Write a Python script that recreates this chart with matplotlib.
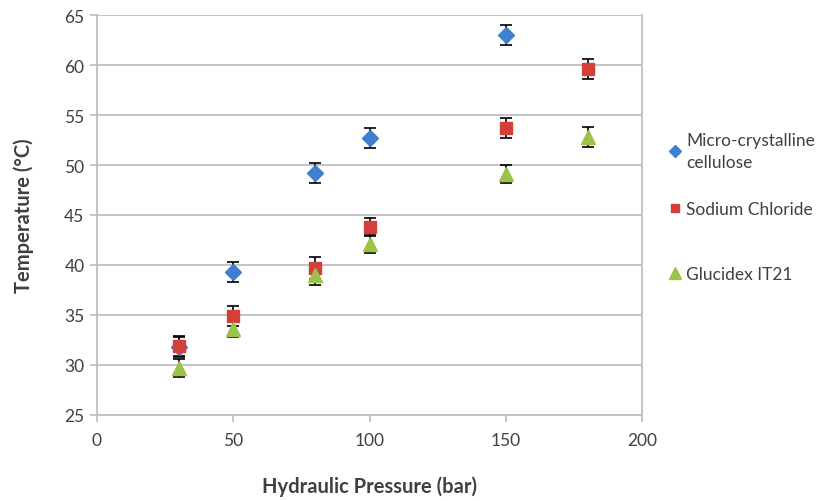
import matplotlib.pyplot as plt

pressure_mcc = [30, 50, 80, 100, 150]
temp_mcc = [31.8, 39.3, 49.2, 52.7, 63.0]
err_mcc = [1.0, 1.0, 1.0, 1.0, 1.0]

pressure_nacl = [30, 50, 80, 100, 150, 180]
temp_nacl = [31.9, 34.9, 39.7, 43.8, 53.7, 59.6]
err_nacl = [1.0, 1.0, 1.1, 0.9, 1.0, 1.0]

pressure_glu = [30, 50, 80, 100, 150, 180]
temp_glu = [29.7, 33.6, 39.0, 42.1, 49.1, 52.8]
err_glu = [0.9, 0.8, 1.0, 0.9, 0.9, 1.0]

plt.rcParams['font.family'] = ['Lato', 'DejaVu Sans']
text_col = '#404040'
grid_col = '#bfbfbf'

fig = plt.figure(figsize=(8.34, 5.02), dpi=100)
ax = fig.add_axes([97 / 834, 1 - 416 / 502, 545 / 834, 400 / 502])

series = [
    (pressure_mcc, temp_mcc, err_mcc, 'D', '#3f7fcf', 8, 'Micro-crystalline\ncellulose'),
    (pressure_nacl, temp_nacl, err_nacl, 's', '#d43f3a', 8, 'Sodium Chloride'),
    (pressure_glu, temp_glu, err_glu, '^', '#9bc34a', 10, 'Glucidex IT21'),
]
for x, y, e, m, c, ms, lab in series:
    ax.errorbar(x, y, yerr=e, fmt=m, color=c, ms=ms, mec=c,
                ecolor='black', elinewidth=1.2, capsize=4, capthick=1.2,
                label=lab, zorder=3)

ax.set_xlim(0, 200)
ax.set_ylim(25, 65)
ax.set_xticks(range(0, 201, 50))
ax.set_yticks(range(25, 66, 5))
ax.yaxis.grid(True, color=grid_col, linewidth=1.3)
ax.set_axisbelow(True)
for s in ['left', 'bottom', 'right', 'top']:
    ax.spines[s].set_color(grid_col)
    ax.spines[s].set_linewidth(1.3)
ax.spines['top'].set_visible(False)
ax.tick_params(colors=grid_col, labelcolor=text_col, labelsize=12.5, length=5, width=1.3)
ax.tick_params(axis='x', pad=7)
ax.tick_params(axis='y', pad=4)

ax.set_xlabel('Hydraulic Pressure (bar)', fontsize=14.5, fontweight='bold', color=text_col, labelpad=20)
ax.set_ylabel('Temperature (°C)', fontsize=14.5, fontweight='bold', color=text_col, labelpad=22)

# one legend box per series so the entries sit at uneven heights
handles, labels = ax.get_legend_handles_labels()
entry_y = [152, 210, 275]
for h, lab, yp in zip(handles, labels, entry_y):
    leg = fig.legend([h[0]], [lab], loc='center left',
                     bbox_to_anchor=(659 / 834, 1 - yp / 502), frameon=False,
                     fontsize=12.5, handletextpad=0.25, borderpad=0,
                     handlelength=0.8, markerscale=0.8)
    for t in leg.get_texts():
        t.set_color(text_col)
        t.set_linespacing(1.5)

fig.savefig('out.png', dpi=100)
